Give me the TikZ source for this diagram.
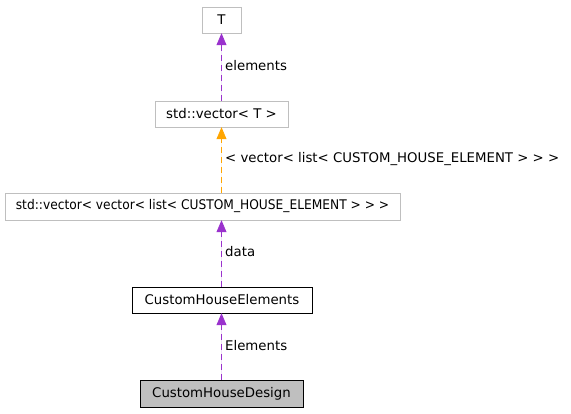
\documentclass[tikz,border=0pt]{standalone}
\usepackage{fontspec}
\setmainfont{DejaVu Sans}
\usetikzlibrary{arrows.meta}
\definecolor{boxgray}{HTML}{BFBFBF}
\definecolor{edgepurple}{HTML}{9A32CD}
\definecolor{edgeorange}{HTML}{FFA500}
\tikzset{
  txt/.style={font=\fontsize{13.3}{16}\selectfont},
  cls/.style={txt, draw=boxgray, rectangle, inner sep=0pt},
  clsdoc/.style={txt, draw=black, rectangle, inner sep=0pt},
  clsme/.style={txt, draw=black, fill=boxgray, rectangle, inner sep=0pt},
  rel/.style={dashed, dash pattern=on 6pt off 4pt, line width=0.8pt, -{Triangle[length=12pt,width=10pt]}},
  lbl/.style={txt, anchor=west, inner sep=0pt}
}
\begin{document}
\begin{tikzpicture}[x=1pt,y=-1pt]
\useasboundingbox (0,0) rectangle (571,413);
\node[cls, minimum width=39pt, minimum height=26pt] (T) at (221.5,20) {T};
\node[cls, minimum width=133pt, minimum height=26pt] (vT) at (221.5,114) {std::vector< T >};
\node[cls, minimum width=395pt, minimum height=27pt] (vv) at (202.5,206.5) {\scalebox{0.92}[1]{std::vector< vector< list< CUSTOM\_HOUSE\_ELEMENT > > >}};
\node[clsdoc, minimum width=180pt, minimum height=26pt] (che) at (222,300) {CustomHouseElements};
\node[clsme, minimum width=163pt, minimum height=27pt] (chd) at (221.5,393.5) {CustomHouseDesign};
\draw[rel, draw=edgepurple, fill=edgepurple] (vT.north) -- (T.south);
\draw[rel, draw=edgeorange, fill=edgeorange] (vv.north -| vT.south) -- (vT.south);
\draw[rel, draw=edgepurple, fill=edgepurple] (che.north -| vT.south) -- (vv.south -| vT.south);
\draw[rel, draw=edgepurple, fill=edgepurple] (chd.north -| vT.south) -- (che.south -| vT.south);
\node[lbl] (l1) at (225,66) {elements};
\node[lbl] (l2) at (225,159) {< vector< list< CUSTOM\_HOUSE\_ELEMENT > > >};
\node[lbl] (l3) at (225,252) {data};
\node[lbl] (l4) at (225,346) {Elements};
\end{tikzpicture}
\end{document}
